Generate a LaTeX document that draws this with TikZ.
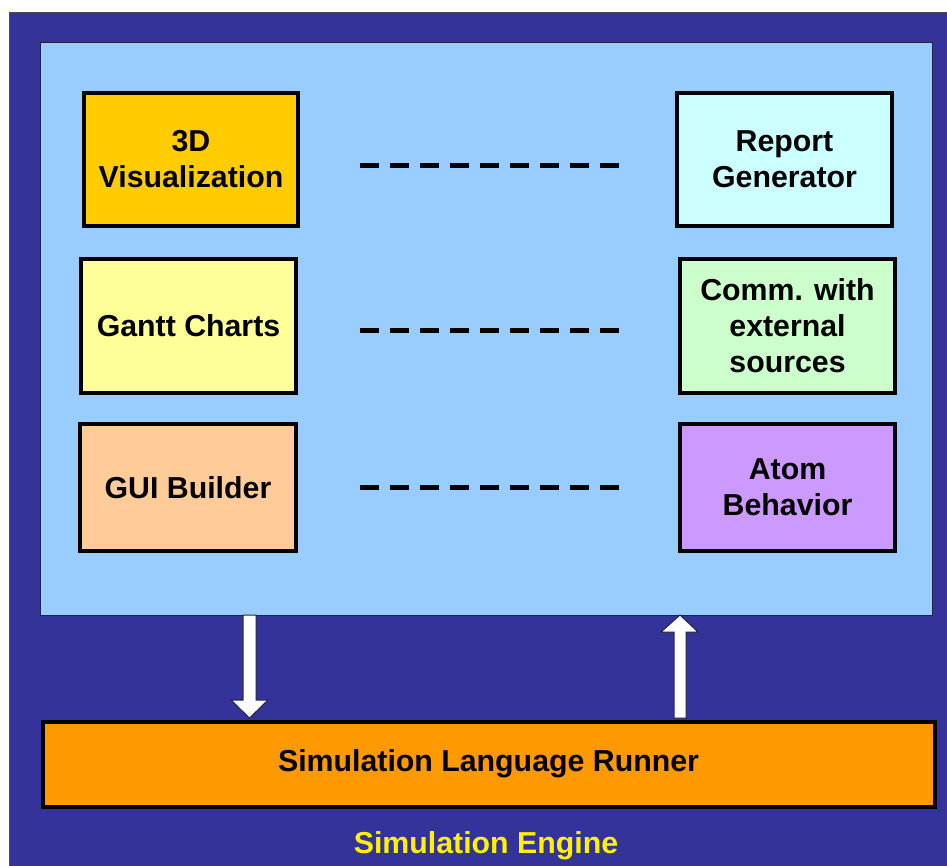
\documentclass[tikz,border=0pt]{standalone}
\usepackage{fontspec}
\setmainfont{Liberation Sans}
\usetikzlibrary{calc}
\definecolor{engine}{HTML}{333399}
\definecolor{panelblue}{HTML}{99CCFF}
\definecolor{runnerorange}{HTML}{FF9900}
\definecolor{vizc}{HTML}{FFCC00}
\definecolor{repc}{HTML}{CCFFFF}
\definecolor{ganttc}{HTML}{FFFF99}
\definecolor{commc}{HTML}{CCFFCC}
\definecolor{guic}{HTML}{FFCC99}
\definecolor{atomc}{HTML}{CC99FF}
\definecolor{edgegray}{HTML}{222244}
\tikzset{
  modbox/.style={draw=black, line width=4pt, align=center, inner sep=0pt,
    font=\fontsize{30.3}{36}\selectfont\bfseries},
  dashlink/.style={line width=5pt, dash pattern=on 18.5pt off 11.5pt},
  bigarrow/.style={fill=white, draw=edgegray, line width=1pt}
}
\begin{document}
\begin{tikzpicture}[x=1pt,y=-1pt]
\useasboundingbox (0,0) rectangle (947,865);
% outer engine
\draw[fill=engine, draw=gray!60!black, line width=1.2pt] (9.5,12.5) rectangle (980,900);
% inner panel
\node[fill=panelblue, draw=edgegray, line width=1.3pt, minimum width=892pt, minimum height=573pt, inner sep=0pt, anchor=north west] (panel) at (40,42) {};
% modules
\node[modbox, fill=vizc, minimum width=214pt, minimum height=133pt] (viz) at (191,159.5) {3D\\Visualization};
\node[modbox, fill=repc, minimum width=215pt, minimum height=133pt] (rep) at (784.5,159.5) {Report\\Generator};
\node[modbox, fill=ganttc, minimum width=215pt, minimum height=134pt] (gantt) at (188.5,326) {Gantt Charts};
\node[modbox, fill=commc, minimum width=215pt, minimum height=134pt] (comm) at (787.5,326) {Comm. with\\external\\sources};
\node[modbox, fill=guic, minimum width=216pt, minimum height=127pt] (gui) at (188,487.5) {GUI Builder};
\node[modbox, fill=atomc, minimum width=215pt, minimum height=127pt] (atom) at (787.5,487.5) {Atom\\Behavior};
% dashed links
\draw[dashlink, shorten <=60pt, shorten >=55pt] ([yshift=-5.5pt]viz.east) -- ([yshift=-5.5pt]rep.west);
\draw[dashlink, shorten <=62pt, shorten >=58pt] ([yshift=-4pt]gantt.east) -- ([yshift=-4pt]comm.west);
\draw[dashlink, shorten <=62pt, shorten >=58pt] (gui.east) -- (atom.west);
% runner
\node[modbox, fill=runnerorange, minimum width=892pt, minimum height=85pt, anchor=north west] (runner) at (40.5,719.5) {Simulation Language Runner};
% arrows
\draw[bigarrow] (243,615) -- (256,615) -- (256,700) -- (268,700) -- (249.5,718) -- (231,700) -- (243,700) -- cycle;
\draw[bigarrow] (674,718) -- (686,718) -- (686,632) -- (698,632) -- (680,615) -- (661,632) -- (674,632) -- cycle;
% label
\node[text=yellow, font=\fontsize{30.3}{36}\selectfont\bfseries] (label) at (486,846) {Simulation Engine};
\end{tikzpicture}
\end{document}
